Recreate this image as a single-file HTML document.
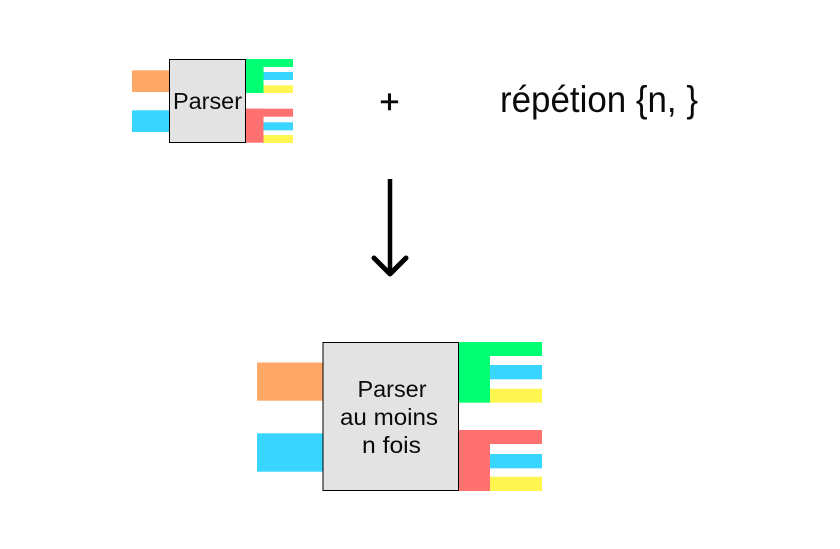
<!DOCTYPE html>
<html>
<head>
<meta charset="utf-8">
<style>
html,body{margin:0;padding:0;background:#fff}
svg{display:block}
text{font-family:"Liberation Sans",sans-serif;fill:#0a0a0a}
</style>
</head>
<body>
<svg width="840" height="549" viewBox="0 0 840 549" xmlns="http://www.w3.org/2000/svg">
<rect x="132" y="70.3" width="38" height="21.7" fill="#ffa766"/>
<rect x="132" y="110.3" width="38" height="21.7" fill="#38d6ff"/>
<rect x="246" y="59" width="47" height="8" fill="#00ff73"/>
<rect x="246" y="59" width="17.5" height="34" fill="#00ff73"/>
<rect x="263.5" y="72" width="29.5" height="8" fill="#38d6ff"/>
<rect x="263.5" y="85.3" width="29.5" height="7.7" fill="#fff652"/>
<rect x="246" y="108.7" width="47" height="8" fill="#ff7070"/>
<rect x="246" y="108.7" width="17.5" height="34" fill="#ff7070"/>
<rect x="263.5" y="122.3" width="29.5" height="8" fill="#38d6ff"/>
<rect x="263.5" y="135" width="29.5" height="8" fill="#fff652"/>
<rect x="169.5" y="59.5" width="76" height="83" fill="#e3e3e3" stroke="#000" stroke-width="1"/>
<text x="173" y="109" font-size="23.5" textLength="69" lengthAdjust="spacingAndGlyphs">Parser</text>

<text x="379.5" y="113" font-size="33" stroke="#0a0a0a" stroke-width="0.6" textLength="20" lengthAdjust="spacingAndGlyphs">+</text>
<text x="500" y="112" font-size="37.5" textLength="198" lengthAdjust="spacingAndGlyphs">répétion {n, }</text>

<path d="M390 179V274" fill="none" stroke="#000" stroke-width="4.5"/>
<path d="M374 258L390 274L406 258" fill="none" stroke="#000" stroke-width="5" stroke-linecap="round" stroke-linejoin="round"/>

<rect x="257" y="362.5" width="66" height="38.2" fill="#ffa766"/>
<rect x="257" y="433.3" width="66" height="38.4" fill="#38d6ff"/>
<rect x="459" y="342" width="83" height="14" fill="#00ff73"/>
<rect x="459" y="342" width="31" height="60.7" fill="#00ff73"/>
<rect x="490" y="365" width="52" height="14.3" fill="#38d6ff"/>
<rect x="490" y="388.7" width="52" height="14" fill="#fff652"/>
<rect x="459" y="430" width="83" height="14" fill="#ff7070"/>
<rect x="459" y="430" width="31" height="61" fill="#ff7070"/>
<rect x="490" y="454" width="52" height="14.3" fill="#38d6ff"/>
<rect x="490" y="476.7" width="52" height="14.3" fill="#fff652"/>
<rect x="323" y="342.5" width="135.5" height="148" fill="#e3e3e3" stroke="#000" stroke-width="1"/>
<text x="357.5" y="397" font-size="23.5" textLength="69" lengthAdjust="spacingAndGlyphs">Parser</text>
<text x="340" y="425" font-size="23.5" textLength="98" lengthAdjust="spacingAndGlyphs">au moins</text>
<text x="362" y="453" font-size="23.5" textLength="59" lengthAdjust="spacingAndGlyphs">n fois</text>
</svg>
</body>
</html>
